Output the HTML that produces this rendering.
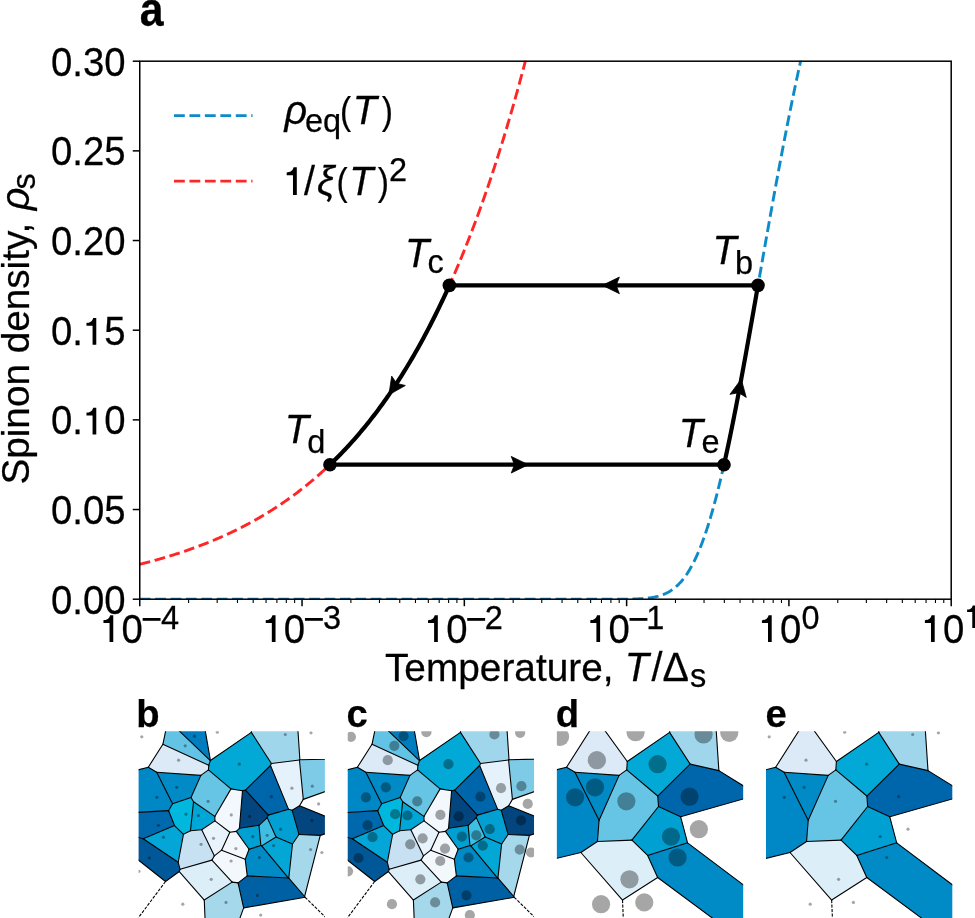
<!DOCTYPE html>
<html><head><meta charset="utf-8"><style>
html,body{margin:0;padding:0;background:#fff;}
svg{display:block;will-change:transform;}
text{font-family:"Liberation Sans",sans-serif;}
text{fill:#000;stroke:#000;stroke-width:0.25px;}
.bold{font-weight:bold;fill:#000;}
</style></head><body>
<svg width="975" height="918" viewBox="0 0 975 918">
<rect width="975" height="918" fill="#fff"/>
<clipPath id="ax"><rect x="139.75" y="60.7" width="811.45" height="539.0"/></clipPath>
<g clip-path="url(#ax)" fill="none" stroke-width="2.9">
<polyline points="139.75,599.2 140.6,599.2 141.46,599.2 142.31,599.2 143.16,599.2 144.02,599.2 144.87,599.2 145.72,599.2 146.57,599.2 147.43,599.2 148.28,599.2 149.13,599.2 149.99,599.2 150.84,599.2 151.69,599.2 152.55,599.2 153.4,599.2 154.25,599.2 155.11,599.2 155.96,599.2 156.81,599.2 157.66,599.2 158.52,599.2 159.37,599.2 160.22,599.2 161.08,599.2 161.93,599.2 162.78,599.2 163.64,599.2 164.49,599.2 165.34,599.2 166.2,599.2 167.05,599.2 167.9,599.2 168.76,599.2 169.61,599.2 170.46,599.2 171.31,599.2 172.17,599.2 173.02,599.2 173.87,599.2 174.73,599.2 175.58,599.2 176.43,599.2 177.29,599.2 178.14,599.2 178.99,599.2 179.85,599.2 180.7,599.2 181.55,599.2 182.4,599.2 183.26,599.2 184.11,599.2 184.96,599.2 185.82,599.2 186.67,599.2 187.52,599.2 188.38,599.2 189.23,599.2 190.08,599.2 190.94,599.2 191.79,599.2 192.64,599.2 193.49,599.2 194.35,599.2 195.2,599.2 196.05,599.2 196.91,599.2 197.76,599.2 198.61,599.2 199.47,599.2 200.32,599.2 201.17,599.2 202.03,599.2 202.88,599.2 203.73,599.2 204.58,599.2 205.44,599.2 206.29,599.2 207.14,599.2 208,599.2 208.85,599.2 209.7,599.2 210.56,599.2 211.41,599.2 212.26,599.2 213.12,599.2 213.97,599.2 214.82,599.2 215.67,599.2 216.53,599.2 217.38,599.2 218.23,599.2 219.09,599.2 219.94,599.2 220.79,599.2 221.65,599.2 222.5,599.2 223.35,599.2 224.21,599.2 225.06,599.2 225.91,599.2 226.77,599.2 227.62,599.2 228.47,599.2 229.32,599.2 230.18,599.2 231.03,599.2 231.88,599.2 232.74,599.2 233.59,599.2 234.44,599.2 235.3,599.2 236.15,599.2 237,599.2 237.86,599.2 238.71,599.2 239.56,599.2 240.41,599.2 241.27,599.2 242.12,599.2 242.97,599.2 243.83,599.2 244.68,599.2 245.53,599.2 246.39,599.2 247.24,599.2 248.09,599.2 248.95,599.2 249.8,599.2 250.65,599.2 251.5,599.2 252.36,599.2 253.21,599.2 254.06,599.2 254.92,599.2 255.77,599.2 256.62,599.2 257.48,599.2 258.33,599.2 259.18,599.2 260.04,599.2 260.89,599.2 261.74,599.2 262.59,599.2 263.45,599.2 264.3,599.2 265.15,599.2 266.01,599.2 266.86,599.2 267.71,599.2 268.57,599.2 269.42,599.2 270.27,599.2 271.13,599.2 271.98,599.2 272.83,599.2 273.68,599.2 274.54,599.2 275.39,599.2 276.24,599.2 277.1,599.2 277.95,599.2 278.8,599.2 279.66,599.2 280.51,599.2 281.36,599.2 282.22,599.2 283.07,599.2 283.92,599.2 284.78,599.2 285.63,599.2 286.48,599.2 287.33,599.2 288.19,599.2 289.04,599.2 289.89,599.2 290.75,599.2 291.6,599.2 292.45,599.2 293.31,599.2 294.16,599.2 295.01,599.2 295.87,599.2 296.72,599.2 297.57,599.2 298.42,599.2 299.28,599.2 300.13,599.2 300.98,599.2 301.84,599.2 302.69,599.2 303.54,599.2 304.4,599.2 305.25,599.2 306.1,599.2 306.96,599.2 307.81,599.2 308.66,599.2 309.51,599.2 310.37,599.2 311.22,599.2 312.07,599.2 312.93,599.2 313.78,599.2 314.63,599.2 315.49,599.2 316.34,599.2 317.19,599.2 318.05,599.2 318.9,599.2 319.75,599.2 320.6,599.2 321.46,599.2 322.31,599.2 323.16,599.2 324.02,599.2 324.87,599.2 325.72,599.2 326.58,599.2 327.43,599.2 328.28,599.2 329.14,599.2 329.99,599.2 330.84,599.2 331.69,599.2 332.55,599.2 333.4,599.2 334.25,599.2 335.11,599.2 335.96,599.2 336.81,599.2 337.67,599.2 338.52,599.2 339.37,599.2 340.23,599.2 341.08,599.2 341.93,599.2 342.79,599.2 343.64,599.2 344.49,599.2 345.34,599.2 346.2,599.2 347.05,599.2 347.9,599.2 348.76,599.2 349.61,599.2 350.46,599.2 351.32,599.2 352.17,599.2 353.02,599.2 353.88,599.2 354.73,599.2 355.58,599.2 356.43,599.2 357.29,599.2 358.14,599.2 358.99,599.2 359.85,599.2 360.7,599.2 361.55,599.2 362.41,599.2 363.26,599.2 364.11,599.2 364.97,599.2 365.82,599.2 366.67,599.2 367.52,599.2 368.38,599.2 369.23,599.2 370.08,599.2 370.94,599.2 371.79,599.2 372.64,599.2 373.5,599.2 374.35,599.2 375.2,599.2 376.06,599.2 376.91,599.2 377.76,599.2 378.61,599.2 379.47,599.2 380.32,599.2 381.17,599.2 382.03,599.2 382.88,599.2 383.73,599.2 384.59,599.2 385.44,599.2 386.29,599.2 387.15,599.2 388,599.2 388.85,599.2 389.71,599.2 390.56,599.2 391.41,599.2 392.26,599.2 393.12,599.2 393.97,599.2 394.82,599.2 395.68,599.2 396.53,599.2 397.38,599.2 398.24,599.2 399.09,599.2 399.94,599.2 400.8,599.2 401.65,599.2 402.5,599.2 403.35,599.2 404.21,599.2 405.06,599.2 405.91,599.2 406.77,599.2 407.62,599.2 408.47,599.2 409.33,599.2 410.18,599.2 411.03,599.2 411.89,599.2 412.74,599.2 413.59,599.2 414.44,599.2 415.3,599.2 416.15,599.2 417,599.2 417.86,599.2 418.71,599.2 419.56,599.2 420.42,599.2 421.27,599.2 422.12,599.2 422.98,599.2 423.83,599.2 424.68,599.2 425.53,599.2 426.39,599.2 427.24,599.2 428.09,599.2 428.95,599.2 429.8,599.2 430.65,599.2 431.51,599.2 432.36,599.2 433.21,599.2 434.07,599.2 434.92,599.2 435.77,599.2 436.62,599.2 437.48,599.2 438.33,599.2 439.18,599.2 440.04,599.2 440.89,599.2 441.74,599.2 442.6,599.2 443.45,599.2 444.3,599.2 445.16,599.2 446.01,599.2 446.86,599.2 447.72,599.2 448.57,599.2 449.42,599.2 450.27,599.2 451.13,599.2 451.98,599.2 452.83,599.2 453.69,599.2 454.54,599.2 455.39,599.2 456.25,599.2 457.1,599.2 457.95,599.2 458.81,599.2 459.66,599.2 460.51,599.2 461.36,599.2 462.22,599.2 463.07,599.2 463.92,599.2 464.78,599.2 465.63,599.2 466.48,599.2 467.34,599.2 468.19,599.2 469.04,599.2 469.9,599.2 470.75,599.2 471.6,599.2 472.45,599.2 473.31,599.2 474.16,599.2 475.01,599.2 475.87,599.2 476.72,599.2 477.57,599.2 478.43,599.2 479.28,599.2 480.13,599.2 480.99,599.2 481.84,599.2 482.69,599.2 483.54,599.2 484.4,599.2 485.25,599.2 486.1,599.2 486.96,599.2 487.81,599.2 488.66,599.2 489.52,599.2 490.37,599.2 491.22,599.2 492.08,599.2 492.93,599.2 493.78,599.2 494.63,599.2 495.49,599.2 496.34,599.2 497.19,599.2 498.05,599.2 498.9,599.2 499.75,599.2 500.61,599.2 501.46,599.2 502.31,599.2 503.17,599.2 504.02,599.2 504.87,599.2 505.73,599.2 506.58,599.2 507.43,599.2 508.28,599.2 509.14,599.2 509.99,599.2 510.84,599.2 511.7,599.2 512.55,599.2 513.4,599.2 514.26,599.2 515.11,599.2 515.96,599.2 516.82,599.2 517.67,599.2 518.52,599.2 519.37,599.2 520.23,599.2 521.08,599.2 521.93,599.2 522.79,599.2 523.64,599.2 524.49,599.2 525.35,599.2 526.2,599.2 527.05,599.2 527.91,599.2 528.76,599.2 529.61,599.2 530.46,599.2 531.32,599.2 532.17,599.2 533.02,599.2 533.88,599.2 534.73,599.2 535.58,599.2 536.44,599.2 537.29,599.2 538.14,599.2 539,599.2 539.85,599.2 540.7,599.2 541.55,599.2 542.41,599.2 543.26,599.2 544.11,599.2 544.97,599.2 545.82,599.2 546.67,599.2 547.53,599.2 548.38,599.2 549.23,599.2 550.09,599.2 550.94,599.2 551.79,599.2 552.65,599.2 553.5,599.2 554.35,599.2 555.2,599.2 556.06,599.2 556.91,599.2 557.76,599.2 558.62,599.2 559.47,599.2 560.32,599.2 561.18,599.2 562.03,599.2 562.88,599.2 563.74,599.2 564.59,599.2 565.44,599.2 566.29,599.2 567.15,599.2 568,599.2 568.85,599.2 569.71,599.2 570.56,599.2 571.41,599.2 572.27,599.2 573.12,599.2 573.97,599.2 574.83,599.2 575.68,599.2 576.53,599.2 577.38,599.2 578.24,599.2 579.09,599.2 579.94,599.2 580.8,599.2 581.65,599.2 582.5,599.2 583.36,599.2 584.21,599.2 585.06,599.2 585.92,599.2 586.77,599.2 587.62,599.2 588.47,599.2 589.33,599.2 590.18,599.2 591.03,599.2 591.89,599.2 592.74,599.2 593.59,599.2 594.45,599.2 595.3,599.2 596.15,599.2 597.01,599.2 597.86,599.2 598.71,599.2 599.56,599.2 600.42,599.2 601.27,599.2 602.12,599.2 602.98,599.2 603.83,599.2 604.68,599.2 605.54,599.2 606.39,599.2 607.24,599.2 608.1,599.2 608.95,599.2 609.8,599.19 610.66,599.19 611.51,599.19 612.36,599.19 613.21,599.19 614.07,599.19 614.92,599.19 615.77,599.18 616.63,599.18 617.48,599.18 618.33,599.18 619.19,599.17 620.04,599.17 620.89,599.17 621.75,599.16 622.6,599.15 623.45,599.15 624.3,599.14 625.16,599.13 626.01,599.13 626.86,599.12 627.72,599.1 628.57,599.09 629.42,599.08 630.28,599.07 631.13,599.05 631.98,599.03 632.84,599.01 633.69,598.99 634.54,598.96 635.39,598.94 636.25,598.91 637.1,598.88 637.95,598.84 638.81,598.8 639.66,598.76 640.51,598.71 641.37,598.66 642.22,598.61 643.07,598.55 643.93,598.48 644.78,598.41 645.63,598.33 646.48,598.25 647.34,598.16 648.19,598.06 649.04,597.96 649.9,597.85 650.75,597.72 651.6,597.59 652.46,597.45 653.31,597.3 654.16,597.13 655.02,596.96 655.87,596.77 656.72,596.57 657.57,596.36 658.43,596.13 659.28,595.88 660.13,595.62 660.99,595.35 661.84,595.05 662.69,594.74 663.55,594.41 664.4,594.05 665.25,593.68 666.11,593.28 666.96,592.86 667.81,592.42 668.67,591.95 669.52,591.46 670.37,590.94 671.22,590.39 672.08,589.81 672.93,589.2 673.78,588.56 674.64,587.89 675.49,587.18 676.34,586.44 677.2,585.67 678.05,584.86 678.9,584.01 679.76,583.12 680.61,582.19 681.46,581.23 682.31,580.22 683.17,579.16 684.02,578.06 684.87,576.92 685.73,575.73 686.58,574.5 687.43,573.21 688.29,571.88 689.14,570.5 689.99,569.07 690.85,567.58 691.7,566.04 692.55,564.45 693.4,562.81 694.26,561.1 695.11,559.35 695.96,557.53 696.82,555.66 697.67,553.74 698.52,551.75 699.38,549.7 700.23,547.6 701.08,545.44 701.94,543.21 702.79,540.92 703.64,538.58 704.49,536.17 705.35,533.7 706.2,531.17 707.05,528.58 707.91,525.93 708.76,523.21 709.61,520.43 710.47,517.59 711.32,514.69 712.17,511.73 713.03,508.71 713.88,505.63 714.73,502.49 715.58,499.29 716.44,496.02 717.29,492.7 718.14,489.32 719,485.89 719.85,482.4 720.7,478.85 721.56,475.24 722.41,471.58 723.26,467.87 724.12,464.11 724.97,460.29 725.82,456.42 726.68,452.5 727.53,448.54 728.38,444.52 729.23,440.46 730.09,436.36 730.94,432.21 731.79,428.01 732.65,423.78 733.5,419.5 734.35,415.19 735.21,410.83 736.06,406.44 736.91,402.02 737.77,397.56 738.62,393.07 739.47,388.54 740.32,383.99 741.18,379.41 742.03,374.8 742.88,370.17 743.74,365.51 744.59,360.83 745.44,356.13 746.3,351.41 747.15,346.67 748,341.91 748.86,337.14 749.71,332.35 750.56,327.55 751.41,322.73 752.27,317.91 753.12,313.08 753.97,308.24 754.83,303.39 755.68,298.54 756.53,293.69 757.39,288.83 758.24,283.97 759.09,279.11 759.95,274.25 760.8,269.39 761.65,264.54 762.5,259.69 763.36,254.85 764.21,250.02 765.06,245.19 765.92,240.37 766.77,235.56 767.62,230.76 768.48,225.98 769.33,221.2 770.18,216.44 771.04,211.7 771.89,206.97 772.74,202.25 773.6,197.56 774.45,192.88 775.3,188.22 776.15,183.57 777.01,178.95 777.86,174.35 778.71,169.77 779.57,165.22 780.42,160.68 781.27,156.17 782.13,151.68 782.98,147.22 783.83,142.78 784.69,138.37 785.54,133.98 786.39,129.62 787.24,125.28 788.1,120.98 788.95,116.7 789.8,112.44 790.66,108.22 791.51,104.02 792.36,99.86 793.22,95.72 794.07,91.61 794.92,87.53 795.78,83.48 796.63,79.46 797.48,75.47 798.33,71.51 799.19,67.59 800.04,63.69 800.89,59.82" stroke="#0c8bc8" stroke-dasharray="10.75 4.65"/>
<polyline points="139.75,564.3 140.43,564.13 141.1,563.96 141.78,563.8 142.46,563.62 143.14,563.45 143.81,563.28 144.49,563.11 145.17,562.93 145.85,562.76 146.52,562.58 147.2,562.41 147.88,562.23 148.56,562.05 149.23,561.87 149.91,561.69 150.59,561.51 151.26,561.33 151.94,561.15 152.62,560.97 153.3,560.78 153.97,560.6 154.65,560.41 155.33,560.22 156.01,560.04 156.68,559.85 157.36,559.66 158.04,559.47 158.72,559.28 159.39,559.08 160.07,558.89 160.75,558.7 161.42,558.5 162.1,558.31 162.78,558.11 163.46,557.91 164.13,557.71 164.81,557.51 165.49,557.31 166.17,557.11 166.84,556.91 167.52,556.7 168.2,556.5 168.88,556.29 169.55,556.09 170.23,555.88 170.91,555.67 171.58,555.46 172.26,555.25 172.94,555.04 173.62,554.82 174.29,554.61 174.97,554.4 175.65,554.18 176.33,553.96 177,553.75 177.68,553.53 178.36,553.31 179.04,553.09 179.71,552.86 180.39,552.64 181.07,552.42 181.74,552.19 182.42,551.96 183.1,551.74 183.78,551.51 184.45,551.28 185.13,551.05 185.81,550.82 186.49,550.58 187.16,550.35 187.84,550.11 188.52,549.88 189.2,549.64 189.87,549.4 190.55,549.16 191.23,548.92 191.9,548.68 192.58,548.43 193.26,548.19 193.94,547.94 194.61,547.7 195.29,547.45 195.97,547.2 196.65,546.95 197.32,546.7 198,546.44 198.68,546.19 199.36,545.93 200.03,545.68 200.71,545.42 201.39,545.16 202.07,544.9 202.74,544.64 203.42,544.38 204.1,544.11 204.77,543.85 205.45,543.58 206.13,543.31 206.81,543.04 207.48,542.77 208.16,542.5 208.84,542.23 209.52,541.95 210.19,541.68 210.87,541.4 211.55,541.12 212.23,540.84 212.9,540.56 213.58,540.28 214.26,540 214.93,539.71 215.61,539.42 216.29,539.14 216.97,538.85 217.64,538.56 218.32,538.26 219,537.97 219.68,537.68 220.35,537.38 221.03,537.08 221.71,536.78 222.39,536.48 223.06,536.18 223.74,535.88 224.42,535.57 225.09,535.26 225.77,534.96 226.45,534.65 227.13,534.34 227.8,534.02 228.48,533.71 229.16,533.39 229.84,533.08 230.51,532.76 231.19,532.44 231.87,532.12 232.55,531.79 233.22,531.47 233.9,531.14 234.58,530.82 235.25,530.49 235.93,530.16 236.61,529.82 237.29,529.49 237.96,529.15 238.64,528.82 239.32,528.48 240,528.14 240.67,527.79 241.35,527.45 242.03,527.1 242.71,526.76 243.38,526.41 244.06,526.06 244.74,525.7 245.41,525.35 246.09,524.99 246.77,524.64 247.45,524.28 248.12,523.92 248.8,523.55 249.48,523.19 250.16,522.82 250.83,522.46 251.51,522.09 252.19,521.72 252.87,521.34 253.54,520.97 254.22,520.59 254.9,520.21 255.57,519.83 256.25,519.45 256.93,519.07 257.61,518.68 258.28,518.29 258.96,517.9 259.64,517.51 260.32,517.12 260.99,516.72 261.67,516.32 262.35,515.92 263.03,515.52 263.7,515.12 264.38,514.72 265.06,514.31 265.73,513.9 266.41,513.49 267.09,513.08 267.77,512.66 268.44,512.24 269.12,511.83 269.8,511.4 270.48,510.98 271.15,510.56 271.83,510.13 272.51,509.7 273.19,509.27 273.86,508.84 274.54,508.4 275.22,507.96 275.89,507.52 276.57,507.08 277.25,506.64 277.93,506.19 278.6,505.75 279.28,505.3 279.96,504.84 280.64,504.39 281.31,503.93 281.99,503.47 282.67,503.01 283.35,502.55 284.02,502.08 284.7,501.62 285.38,501.15 286.05,500.67 286.73,500.2 287.41,499.72 288.09,499.24 288.76,498.76 289.44,498.28 290.12,497.79 290.8,497.3 291.47,496.81 292.15,496.32 292.83,495.82 293.51,495.33 294.18,494.82 294.86,494.32 295.54,493.82 296.21,493.31 296.89,492.8 297.57,492.29 298.25,491.77 298.92,491.25 299.6,490.73 300.28,490.21 300.96,489.69 301.63,489.16 302.31,488.63 302.99,488.1 303.67,487.56 304.34,487.02 305.02,486.48 305.7,485.94 306.37,485.4 307.05,484.85 307.73,484.3 308.41,483.74 309.08,483.19 309.76,482.63 310.44,482.07 311.12,481.5 311.79,480.94 312.47,480.37 313.15,479.79 313.83,479.22 314.5,478.64 315.18,478.06 315.86,477.48 316.54,476.89 317.21,476.3 317.89,475.71 318.57,475.11 319.24,474.52 319.92,473.92 320.6,473.31 321.28,472.71 321.95,472.1 322.63,471.48 323.31,470.87 323.99,470.25 324.66,469.63 325.34,469.01 326.02,468.38 326.7,467.75 327.37,467.12 328.05,466.48 328.73,465.84 329.4,465.2 330.08,464.55 330.76,463.9 331.44,463.25 332.11,462.6 332.79,461.94 333.47,461.28 334.15,460.61 334.82,459.95 335.5,459.28 336.18,458.6 336.86,457.92 337.53,457.24 338.21,456.56 338.89,455.87 339.56,455.18 340.24,454.49 340.92,453.79 341.6,453.09 342.27,452.39 342.95,451.68 343.63,450.97 344.31,450.26 344.98,449.54 345.66,448.82 346.34,448.09 347.02,447.37 347.69,446.63 348.37,445.9 349.05,445.16 349.72,444.42 350.4,443.67 351.08,442.93 351.76,442.17 352.43,441.42 353.11,440.66 353.79,439.89 354.47,439.13 355.14,438.35 355.82,437.58 356.5,436.8 357.18,436.02 357.85,435.23 358.53,434.44 359.21,433.65 359.88,432.85 360.56,432.05 361.24,431.25 361.92,430.44 362.59,429.62 363.27,428.81 363.95,427.99 364.63,427.16 365.3,426.33 365.98,425.5 366.66,424.66 367.34,423.82 368.01,422.98 368.69,422.13 369.37,421.28 370.04,420.42 370.72,419.56 371.4,418.69 372.08,417.82 372.75,416.95 373.43,416.07 374.11,415.19 374.79,414.3 375.46,413.41 376.14,412.52 376.82,411.62 377.5,410.72 378.17,409.81 378.85,408.9 379.53,407.98 380.2,407.06 380.88,406.13 381.56,405.2 382.24,404.27 382.91,403.33 383.59,402.39 384.27,401.44 384.95,400.49 385.62,399.53 386.3,398.57 386.98,397.6 387.66,396.63 388.33,395.65 389.01,394.67 389.69,393.69 390.36,392.7 391.04,391.7 391.72,390.7 392.4,389.7 393.07,388.69 393.75,387.68 394.43,386.66 395.11,385.63 395.78,384.61 396.46,383.57 397.14,382.53 397.82,381.49 398.49,380.44 399.17,379.39 399.85,378.33 400.52,377.26 401.2,376.2 401.88,375.12 402.56,374.04 403.23,372.96 403.91,371.87 404.59,370.77 405.27,369.67 405.94,368.57 406.62,367.46 407.3,366.34 407.98,365.22 408.65,364.09 409.33,362.96 410.01,361.82 410.68,360.68 411.36,359.53 412.04,358.37 412.72,357.21 413.39,356.05 414.07,354.88 414.75,353.7 415.43,352.52 416.1,351.33 416.78,350.14 417.46,348.94 418.14,347.73 418.81,346.52 419.49,345.3 420.17,344.08 420.84,342.85 421.52,341.62 422.2,340.38 422.88,339.13 423.55,337.88 424.23,336.62 424.91,335.35 425.59,334.08 426.26,332.81 426.94,331.52 427.62,330.23 428.3,328.94 428.97,327.64 429.65,326.33 430.33,325.01 431.01,323.69 431.68,322.37 432.36,321.03 433.04,319.69 433.71,318.35 434.39,316.99 435.07,315.63 435.75,314.27 436.42,312.9 437.1,311.52 437.78,310.13 438.46,308.74 439.13,307.34 439.81,305.93 440.49,304.52 441.17,303.1 441.84,301.68 442.52,300.24 443.2,298.8 443.87,297.36 444.55,295.9 445.23,294.44 445.91,292.97 446.58,291.5 447.26,290.02 447.94,288.53 448.62,287.03 449.29,285.53 449.97,284.02 450.65,282.5 451.33,280.97 452,279.44 452.68,277.9 453.36,276.35 454.03,274.8 454.71,273.23 455.39,271.66 456.07,270.09 456.74,268.5 457.42,266.91 458.1,265.31 458.78,263.7 459.45,262.08 460.13,260.46 460.81,258.83 461.49,257.19 462.16,255.54 462.84,253.89 463.52,252.22 464.19,250.55 464.87,248.87 465.55,247.19 466.23,245.49 466.9,243.79 467.58,242.07 468.26,240.35 468.94,238.63 469.61,236.89 470.29,235.14 470.97,233.39 471.65,231.63 472.32,229.86 473,228.08 473.68,226.29 474.35,224.5 475.03,222.69 475.71,220.88 476.39,219.06 477.06,217.22 477.74,215.38 478.42,213.54 479.1,211.68 479.77,209.81 480.45,207.94 481.13,206.05 481.81,204.16 482.48,202.25 483.16,200.34 483.84,198.42 484.51,196.49 485.19,194.55 485.87,192.6 486.55,190.64 487.22,188.68 487.9,186.7 488.58,184.71 489.26,182.72 489.93,180.71 490.61,178.69 491.29,176.67 491.97,174.63 492.64,172.59 493.32,170.53 494,168.47 494.67,166.39 495.35,164.31 496.03,162.21 496.71,160.11 497.38,158 498.06,155.87 498.74,153.73 499.42,151.59 500.09,149.43 500.77,147.27 501.45,145.09 502.13,142.9 502.8,140.7 503.48,138.5 504.16,136.28 504.83,134.05 505.51,131.81 506.19,129.56 506.87,127.29 507.54,125.02 508.22,122.74 508.9,120.44 509.58,118.14 510.25,115.82 510.93,113.49 511.61,111.15 512.29,108.8 512.96,106.44 513.64,104.06 514.32,101.68 514.99,99.28 515.67,96.88 516.35,94.46 517.03,92.03 517.7,89.58 518.38,87.13 519.06,84.66 519.74,82.18 520.41,79.69 521.09,77.19 521.77,74.68 522.45,72.15 523.12,69.61 523.8,67.06 524.48,64.5 525.15,61.92 525.83,59.33 526.51,56.73 527.19,54.12 527.86,51.49 528.54,48.86 529.22,46.21 529.9,43.54 530.57,40.87" stroke="#ff2626" stroke-dasharray="10.75 4.65"/>
</g>
<polyline points="757.99,285.37 449.37,285.37 449.37,285.37 447.85,288.71 446.34,292.03 444.83,295.3 443.32,298.55 441.81,301.75 440.29,304.93 438.78,308.07 437.27,311.17 435.76,314.24 434.25,317.28 432.73,320.29 431.22,323.27 429.71,326.21 428.2,329.12 426.69,332 425.18,334.85 423.66,337.67 422.15,340.46 420.64,343.22 419.13,345.96 417.62,348.66 416.1,351.33 414.59,353.97 413.08,356.59 411.57,359.18 410.06,361.74 408.54,364.27 407.03,366.78 405.52,369.26 404.01,371.71 402.5,374.14 400.99,376.54 399.47,378.91 397.96,381.26 396.45,383.59 394.94,385.89 393.43,388.16 391.91,390.42 390.4,392.64 388.89,394.85 387.38,397.03 385.87,399.18 384.35,401.32 382.84,403.43 381.33,405.52 379.82,407.58 378.31,409.63 376.8,411.65 375.28,413.65 373.77,415.63 372.26,417.59 370.75,419.53 369.24,421.44 367.72,423.34 366.21,425.21 364.7,427.07 363.19,428.91 361.68,430.72 360.16,432.52 358.65,434.3 357.14,436.06 355.63,437.8 354.12,439.52 352.61,441.22 351.09,442.91 349.58,444.58 348.07,446.23 346.56,447.86 345.05,449.47 343.53,451.07 342.02,452.65 340.51,454.21 339,455.76 337.49,457.29 335.97,458.8 334.46,460.3 332.95,461.78 331.44,463.25 329.93,464.7 723.98,464.7 723.98,464.7 724.41,462.78 724.84,460.86 725.27,458.91 725.7,456.96 726.13,454.99 726.57,453.01 727,451.02 727.43,449.01 727.86,447 728.29,444.97 728.72,442.93 729.15,440.87 729.58,438.81 730.01,436.73 730.44,434.65 730.87,432.55 731.3,430.44 731.73,428.32 732.16,426.19 732.59,424.05 733.02,421.89 733.45,419.73 733.88,417.56 734.31,415.38 734.75,413.19 735.18,410.99 735.61,408.78 736.04,406.56 736.47,404.33 736.9,402.09 737.33,399.85 737.76,397.59 738.19,395.33 738.62,393.06 739.05,390.78 739.48,388.49 739.91,386.2 740.34,383.9 740.77,381.59 741.2,379.27 741.63,376.95 742.06,374.62 742.49,372.29 742.93,369.94 743.36,367.59 743.79,365.24 744.22,362.88 744.65,360.51 745.08,358.14 745.51,355.77 745.94,353.39 746.37,351 746.8,348.61 747.23,346.21 747.66,343.81 748.09,341.41 748.52,339 748.95,336.59 749.38,334.17 749.81,331.75 750.24,329.33 750.67,326.91 751.11,324.48 751.54,322.05 751.97,319.61 752.4,317.18 752.83,314.74 753.26,312.3 753.69,309.86 754.12,307.41 754.55,304.97 754.98,302.52 755.41,300.07 755.84,297.62 756.27,295.17 756.7,292.72 757.13,290.27 757.56,287.82 757.99,285.37" fill="none" stroke="#000" stroke-width="4.2" stroke-linejoin="round"/>
<path d="M602.38,285.37 L619.38,293.67 L616.18,285.37 L619.38,277.07 Z" fill="#000" stroke="#000" stroke-width="0.8" stroke-linejoin="round"/>
<path d="M528.25,464.70 L511.25,456.40 L514.45,464.70 L511.25,473.00 Z" fill="#000" stroke="#000" stroke-width="0.8" stroke-linejoin="round"/>
<path d="M388.91,394.82 L405.37,385.50 L396.72,383.44 L391.68,376.11 Z" fill="#000" stroke="#000" stroke-width="0.8" stroke-linejoin="round"/>
<path d="M741.23,379.15 L729.96,394.35 L738.70,392.72 L746.28,397.38 Z" fill="#000" stroke="#000" stroke-width="0.8" stroke-linejoin="round"/>
<circle cx="757.99" cy="285.37" r="6.8" fill="#000"/>
<circle cx="449.37" cy="285.37" r="6.8" fill="#000"/>
<circle cx="329.93" cy="464.70" r="6.8" fill="#000"/>
<circle cx="723.98" cy="464.70" r="6.8" fill="#000"/>
<rect x="139.75" y="61.2" width="811.45" height="538.0" fill="none" stroke="#000" stroke-width="1.5"/>
<line x1="132.75" y1="599.20" x2="139.75" y2="599.20" stroke="#000" stroke-width="1.5"/>
<line x1="132.75" y1="509.53" x2="139.75" y2="509.53" stroke="#000" stroke-width="1.5"/>
<line x1="132.75" y1="419.87" x2="139.75" y2="419.87" stroke="#000" stroke-width="1.5"/>
<line x1="132.75" y1="330.20" x2="139.75" y2="330.20" stroke="#000" stroke-width="1.5"/>
<line x1="132.75" y1="240.53" x2="139.75" y2="240.53" stroke="#000" stroke-width="1.5"/>
<line x1="132.75" y1="150.87" x2="139.75" y2="150.87" stroke="#000" stroke-width="1.5"/>
<line x1="132.75" y1="61.20" x2="139.75" y2="61.20" stroke="#000" stroke-width="1.5"/>
<line x1="139.75" y1="599.20" x2="139.75" y2="606.20" stroke="#000" stroke-width="1.5"/>
<line x1="188.60" y1="599.20" x2="188.60" y2="603.00" stroke="#000" stroke-width="1.1"/>
<line x1="217.18" y1="599.20" x2="217.18" y2="603.00" stroke="#000" stroke-width="1.1"/>
<line x1="237.46" y1="599.20" x2="237.46" y2="603.00" stroke="#000" stroke-width="1.1"/>
<line x1="253.19" y1="599.20" x2="253.19" y2="603.00" stroke="#000" stroke-width="1.1"/>
<line x1="266.04" y1="599.20" x2="266.04" y2="603.00" stroke="#000" stroke-width="1.1"/>
<line x1="276.90" y1="599.20" x2="276.90" y2="603.00" stroke="#000" stroke-width="1.1"/>
<line x1="286.31" y1="599.20" x2="286.31" y2="603.00" stroke="#000" stroke-width="1.1"/>
<line x1="294.61" y1="599.20" x2="294.61" y2="603.00" stroke="#000" stroke-width="1.1"/>
<line x1="302.04" y1="599.20" x2="302.04" y2="606.20" stroke="#000" stroke-width="1.5"/>
<line x1="350.89" y1="599.20" x2="350.89" y2="603.00" stroke="#000" stroke-width="1.1"/>
<line x1="379.47" y1="599.20" x2="379.47" y2="603.00" stroke="#000" stroke-width="1.1"/>
<line x1="399.75" y1="599.20" x2="399.75" y2="603.00" stroke="#000" stroke-width="1.1"/>
<line x1="415.48" y1="599.20" x2="415.48" y2="603.00" stroke="#000" stroke-width="1.1"/>
<line x1="428.33" y1="599.20" x2="428.33" y2="603.00" stroke="#000" stroke-width="1.1"/>
<line x1="439.19" y1="599.20" x2="439.19" y2="603.00" stroke="#000" stroke-width="1.1"/>
<line x1="448.60" y1="599.20" x2="448.60" y2="603.00" stroke="#000" stroke-width="1.1"/>
<line x1="456.90" y1="599.20" x2="456.90" y2="603.00" stroke="#000" stroke-width="1.1"/>
<line x1="464.33" y1="599.20" x2="464.33" y2="606.20" stroke="#000" stroke-width="1.5"/>
<line x1="513.18" y1="599.20" x2="513.18" y2="603.00" stroke="#000" stroke-width="1.1"/>
<line x1="541.76" y1="599.20" x2="541.76" y2="603.00" stroke="#000" stroke-width="1.1"/>
<line x1="562.04" y1="599.20" x2="562.04" y2="603.00" stroke="#000" stroke-width="1.1"/>
<line x1="577.77" y1="599.20" x2="577.77" y2="603.00" stroke="#000" stroke-width="1.1"/>
<line x1="590.62" y1="599.20" x2="590.62" y2="603.00" stroke="#000" stroke-width="1.1"/>
<line x1="601.48" y1="599.20" x2="601.48" y2="603.00" stroke="#000" stroke-width="1.1"/>
<line x1="610.89" y1="599.20" x2="610.89" y2="603.00" stroke="#000" stroke-width="1.1"/>
<line x1="619.19" y1="599.20" x2="619.19" y2="603.00" stroke="#000" stroke-width="1.1"/>
<line x1="626.62" y1="599.20" x2="626.62" y2="606.20" stroke="#000" stroke-width="1.5"/>
<line x1="675.47" y1="599.20" x2="675.47" y2="603.00" stroke="#000" stroke-width="1.1"/>
<line x1="704.05" y1="599.20" x2="704.05" y2="603.00" stroke="#000" stroke-width="1.1"/>
<line x1="724.33" y1="599.20" x2="724.33" y2="603.00" stroke="#000" stroke-width="1.1"/>
<line x1="740.06" y1="599.20" x2="740.06" y2="603.00" stroke="#000" stroke-width="1.1"/>
<line x1="752.91" y1="599.20" x2="752.91" y2="603.00" stroke="#000" stroke-width="1.1"/>
<line x1="763.77" y1="599.20" x2="763.77" y2="603.00" stroke="#000" stroke-width="1.1"/>
<line x1="773.18" y1="599.20" x2="773.18" y2="603.00" stroke="#000" stroke-width="1.1"/>
<line x1="781.48" y1="599.20" x2="781.48" y2="603.00" stroke="#000" stroke-width="1.1"/>
<line x1="788.91" y1="599.20" x2="788.91" y2="606.20" stroke="#000" stroke-width="1.5"/>
<line x1="837.76" y1="599.20" x2="837.76" y2="603.00" stroke="#000" stroke-width="1.1"/>
<line x1="866.34" y1="599.20" x2="866.34" y2="603.00" stroke="#000" stroke-width="1.1"/>
<line x1="886.62" y1="599.20" x2="886.62" y2="603.00" stroke="#000" stroke-width="1.1"/>
<line x1="902.35" y1="599.20" x2="902.35" y2="603.00" stroke="#000" stroke-width="1.1"/>
<line x1="915.20" y1="599.20" x2="915.20" y2="603.00" stroke="#000" stroke-width="1.1"/>
<line x1="926.06" y1="599.20" x2="926.06" y2="603.00" stroke="#000" stroke-width="1.1"/>
<line x1="935.47" y1="599.20" x2="935.47" y2="603.00" stroke="#000" stroke-width="1.1"/>
<line x1="943.77" y1="599.20" x2="943.77" y2="603.00" stroke="#000" stroke-width="1.1"/>
<line x1="951.20" y1="599.20" x2="951.20" y2="606.20" stroke="#000" stroke-width="1.5"/>
<text transform="translate(139.65,26.00) scale(0.930,1.030)" font-size="46.00" font-weight="bold">a</text>
<text transform="translate(136.18,726.50) scale(1.000,1.000)" font-size="38.20" font-weight="bold">b</text>
<text transform="translate(346.61,726.50) scale(1.000,1.000)" font-size="38.20" font-weight="bold">c</text>
<text transform="translate(555.63,726.50) scale(1.000,1.000)" font-size="38.20" font-weight="bold">d</text>
<text transform="translate(765.61,726.50) scale(1.000,1.000)" font-size="38.20" font-weight="bold">e</text>
<text transform="translate(51.05,613.80) scale(1,1.055)" font-size="38.30">0.00</text>
<text transform="translate(51.05,524.13) scale(1,1.055)" font-size="38.30">0.05</text>
<text transform="translate(51.05,434.47) scale(1,1.055)" font-size="38.30">0.</text>
<path d="M96.28,407.77 L96.28,434.47 L92.57,434.47 L92.57,415.47 L86.48,415.47 L86.48,412.67 C89.73,412.67 92.22,411.49 93.18,407.77 Z" fill="#000"/>
<text transform="translate(104.29,434.47) scale(1,1.055)" font-size="38.30">0</text>
<text transform="translate(51.05,344.80) scale(1,1.055)" font-size="38.30">0.</text>
<path d="M96.28,318.10 L96.28,344.80 L92.57,344.80 L92.57,325.80 L86.48,325.80 L86.48,323.01 C89.73,323.01 92.22,321.82 93.18,318.10 Z" fill="#000"/>
<text transform="translate(104.29,344.80) scale(1,1.055)" font-size="38.30">5</text>
<text transform="translate(51.05,255.13) scale(1,1.055)" font-size="38.30">0.20</text>
<text transform="translate(51.05,165.47) scale(1,1.055)" font-size="38.30">0.25</text>
<text transform="translate(51.05,75.80) scale(1,1.055)" font-size="38.30">0.30</text>
<path d="M113.25,615.30 L113.25,642.00 L109.54,642.00 L109.54,623.00 L103.45,623.00 L103.45,620.21 C106.71,620.21 109.20,619.02 110.15,615.30 Z" fill="#000"/>
<text transform="translate(121.56,642.7) scale(1,1.04)" font-size="38.30">0</text>
<rect x="142.65" y="618.0" width="17.9" height="2.8" fill="#000"/>
<text transform="translate(161.10,628.5) scale(1,1.04)" font-size="32.50">4</text>
<path d="M275.54,615.30 L275.54,642.00 L271.83,642.00 L271.83,623.00 L265.74,623.00 L265.74,620.21 C269.00,620.21 271.49,619.02 272.44,615.30 Z" fill="#000"/>
<text transform="translate(283.85,642.7) scale(1,1.04)" font-size="38.30">0</text>
<rect x="304.94" y="618.0" width="17.9" height="2.8" fill="#000"/>
<text transform="translate(322.90,628.5) scale(1,1.04)" font-size="32.50">3</text>
<path d="M437.83,615.30 L437.83,642.00 L434.12,642.00 L434.12,623.00 L428.03,623.00 L428.03,620.21 C431.29,620.21 433.78,619.02 434.73,615.30 Z" fill="#000"/>
<text transform="translate(446.14,642.7) scale(1,1.04)" font-size="38.30">0</text>
<rect x="467.23" y="618.0" width="17.9" height="2.8" fill="#000"/>
<text transform="translate(484.80,628.5) scale(1,1.04)" font-size="32.50">2</text>
<path d="M600.12,615.30 L600.12,642.00 L596.41,642.00 L596.41,623.00 L590.32,623.00 L590.32,620.21 C593.58,620.21 596.07,619.02 597.02,615.30 Z" fill="#000"/>
<text transform="translate(608.43,642.7) scale(1,1.04)" font-size="38.30">0</text>
<rect x="629.52" y="618.0" width="17.9" height="2.8" fill="#000"/>
<text transform="translate(646.24,628.5) scale(1,1.04)" font-size="32.50">1</text>
<path d="M771.71,615.30 L771.71,642.00 L768.00,642.00 L768.00,623.00 L761.91,623.00 L761.91,620.21 C765.17,620.21 767.66,619.02 768.61,615.30 Z" fill="#000"/>
<text transform="translate(780.02,642.7) scale(1,1.04)" font-size="38.30">0</text>
<text transform="translate(801.54,628.6) scale(1,1.04)" font-size="32.50">0</text>
<path d="M934.70,615.30 L934.70,642.00 L930.99,642.00 L930.99,623.00 L924.90,623.00 L924.90,620.21 C928.16,620.21 930.65,619.02 931.60,615.30 Z" fill="#000"/>
<text transform="translate(943.01,642.7) scale(1,1.04)" font-size="38.30">0</text>
<path d="M975.42,605.45 L975.42,628.10 L972.27,628.10 L972.27,611.98 L967.10,611.98 L967.10,609.61 C969.86,609.61 971.98,608.60 972.79,605.45 Z" fill="#000"/>
<text transform="translate(384.93,680.90) scale(0.983,1.000)" font-size="39.50">Temperature,</text>
<text transform="translate(624.65,680.90) scale(1.000,1.040)" font-size="39.50" font-style="italic">T</text>
<text transform="translate(651.50,680.90) scale(1.000,1.040)" font-size="39.50">/</text>
<text transform="translate(662.62,680.90) scale(1.000,1.040)" font-size="39.50">Δ</text>
<text transform="translate(690.00,687.20) scale(1.000,1.000)" font-size="32.50">s</text>
<text transform="translate(29.40,484.56) rotate(-90) scale(0.980,1.000)" font-size="39.50">Spinon density,</text>
<text transform="translate(29.40,210.24) rotate(-90) scale(1.000,1.040)" font-size="39.50" font-style="italic">ρ</text>
<text transform="translate(35.10,189.40) rotate(-90) scale(1.000,1.000)" font-size="32.50">s</text>
<line x1="174" y1="115.7" x2="252.5" y2="115.7" stroke="#0c8bc8" stroke-width="2.8" stroke-dasharray="10.8 4.65"/>
<line x1="174" y1="181.1" x2="252.5" y2="181.1" stroke="#ff2626" stroke-width="2.8" stroke-dasharray="10.8 4.65"/>
<text transform="translate(284.46,123.80) scale(1.000,1.040)" font-size="39.50" font-style="italic">ρ</text>
<text transform="translate(304.92,131.60) scale(1.000,1.000)" font-size="32.50">eq</text>
<text transform="translate(340.02,123.80) scale(0.850,0.980)" font-size="39.50">(</text>
<text transform="translate(352.65,123.80) scale(1.000,1.040)" font-size="39.50" font-style="italic">T</text>
<text transform="translate(381.80,123.80) scale(0.850,0.980)" font-size="39.50">)</text>
<path d="M296.81,167.37 L296.81,194.90 L292.98,194.90 L292.98,175.31 L286.70,175.31 L286.70,172.42 C290.06,172.42 292.62,171.20 293.61,167.37 Z" fill="#000"/>
<text transform="translate(304.00,194.90) scale(1.000,1.040)" font-size="39.50">/</text>
<text transform="translate(316.94,194.90) scale(1.000,1.040)" font-size="39.50" font-style="italic">ξ</text>
<text transform="translate(336.62,194.90) scale(0.850,0.980)" font-size="39.50">(</text>
<text transform="translate(349.15,194.90) scale(1.000,1.040)" font-size="39.50" font-style="italic">T</text>
<text transform="translate(377.80,194.90) scale(0.850,0.980)" font-size="39.50">)</text>
<text transform="translate(389.07,180.70) scale(1.000,1.000)" font-size="32.50">2</text>
<text transform="translate(712.45,263.50) scale(1.000,1.040)" font-size="39.50" font-style="italic">T</text>
<text transform="translate(735.11,273.70) scale(1.000,1.000)" font-size="32.50">b</text>
<text transform="translate(405.05,266.90) scale(1.000,1.040)" font-size="39.50" font-style="italic">T</text>
<text transform="translate(427.52,273.40) scale(1.000,1.000)" font-size="32.50">c</text>
<text transform="translate(284.75,442.60) scale(1.000,1.040)" font-size="39.50" font-style="italic">T</text>
<text transform="translate(307.24,453.10) scale(1.000,1.000)" font-size="32.50">d</text>
<text transform="translate(678.75,446.60) scale(1.000,1.040)" font-size="39.50" font-style="italic">T</text>
<text transform="translate(701.52,452.50) scale(1.000,1.000)" font-size="32.50">e</text>
<clipPath id="cp0"><rect x="138.60" y="731.20" width="186.30" height="198.80"/></clipPath>
<g clip-path="url(#cp0)"><g transform="translate(0.00,0)">
<polygon points="167.91,720.02 165.43,502.82 210.44,760.48 210.32,760.67" fill="#007dbe"/>
<polygon points="162.88,744.28 208.75,765.30 210.32,760.67 167.91,720.02" fill="#62c3e5"/>
<polygon points="162.88,744.28 148.24,767.31 156.69,772.28 200.84,775.38 208.44,769.92 208.75,765.30" fill="#dbeaf6"/>
<polygon points="156.69,772.28 172.53,803.80 191.01,797.41 200.84,775.38" fill="#008ac6"/>
<polygon points="156.69,772.28 172.53,803.80 168.55,810.67 72.80,816.15 11.29,801.27 148.24,767.31" fill="#0088c6"/>
<polygon points="200.84,775.38 191.01,797.41 193.54,801.73 214.82,816.42 230.97,788.87 208.44,769.92" fill="#66c5e5"/>
<polygon points="174.52,825.53 183.46,834.31 190.46,830.80 193.54,801.73 191.01,797.41 172.53,803.80 168.55,810.67" fill="#00b8de"/>
<polygon points="201.69,829.71 190.46,830.80 193.54,801.73 214.82,816.42 214.90,820.90" fill="#00a6d6"/>
<polygon points="229.84,832.26 236.29,831.38 239.41,828.30 242.50,790.69 230.97,788.87 214.82,816.42 214.90,820.90" fill="#f2f8fd"/>
<polygon points="94.21,825.22 143.17,838.70 174.52,825.53 168.55,810.67 72.80,816.15" fill="#0068ac"/>
<polygon points="271.41,763.46 299.44,760.02 299.88,759.79 267.14,264.91 251.33,732.36" fill="#a0d6ec"/>
<polygon points="208.75,765.30 208.44,769.92 230.97,788.87 242.50,790.69 245.51,790.09 270.48,765.50 271.41,763.46 251.33,732.36 210.44,760.48 210.32,760.67" fill="#02a9d6"/>
<polygon points="299.44,760.02 303.29,799.38 422.94,756.79 299.88,759.79" fill="#7ecbe8"/>
<polygon points="292.18,810.34 288.57,809.34 270.48,765.50 271.41,763.46 299.44,760.02 303.29,799.38 299.54,805.77" fill="#e6f2fb"/>
<polygon points="245.51,790.09 268.26,815.15 288.57,809.34 270.48,765.50" fill="#0066ac"/>
<polygon points="258.99,825.30 239.41,828.30 242.50,790.69 245.51,790.09 268.26,815.15 267.24,817.62" fill="#02457f"/>
<polygon points="320.27,835.40 298.96,834.45 292.18,810.34 299.54,805.77 349.83,826.19" fill="#02457f"/>
<polygon points="276.04,836.95 292.49,843.97 298.96,834.45 292.18,810.34 288.57,809.34 268.26,815.15 267.24,817.62" fill="#02a0d2"/>
<polygon points="143.17,838.70 178.20,862.27 183.46,834.31 174.52,825.53" fill="#03a6d6"/>
<polygon points="94.21,825.22 165.52,881.52 179.30,871.56 180.07,869.33 178.20,862.27 143.17,838.70" fill="#005898"/>
<polygon points="214.33,855.83 211.94,860.13 180.07,869.33 178.20,862.27 183.46,834.31 190.46,830.80 201.69,829.71" fill="#c8e1f2"/>
<polygon points="221.60,850.19 229.84,832.26 214.90,820.90 201.69,829.71 214.33,855.83" fill="#e9f3fb"/>
<polygon points="221.60,850.19 245.21,859.33 247.26,875.87 238.07,882.87 232.18,882.15 211.94,860.13 214.33,855.83" fill="#f3f8fd"/>
<polygon points="180.07,869.33 211.94,860.13 232.18,882.15 204.26,900.03 179.30,871.56" fill="#dceef8"/>
<polygon points="238.07,882.87 243.66,907.90 208.58,1003.74 204.26,900.03 232.18,882.15" fill="#a6d8ec"/>
<polygon points="260.81,845.53 249.05,849.25 236.29,831.38 239.41,828.30 258.99,825.30" fill="#00a0d2"/>
<polygon points="261.71,845.85 276.04,836.95 267.24,817.62 258.99,825.30 260.81,845.53" fill="#40bde2"/>
<polygon points="261.71,845.85 288.50,878.04 288.80,878.14 292.49,843.97 276.04,836.95" fill="#03a7d6"/>
<polygon points="221.60,850.19 245.21,859.33 249.05,849.25 236.29,831.38 229.84,832.26" fill="#f3f8fd"/>
<polygon points="261.71,845.85 288.50,878.04 247.26,875.87 245.21,859.33 249.05,849.25 260.81,845.53" fill="#008ac6"/>
<polygon points="288.80,878.14 304.58,896.51 320.27,835.40 298.96,834.45 292.49,843.97" fill="#a6d8ec"/>
<polygon points="288.80,878.14 304.58,896.51 305.10,897.29 243.66,907.90 238.07,882.87 247.26,875.87 288.50,878.04" fill="#0060a4"/>
<g stroke="#000" stroke-width="1.1" stroke-linecap="round">
<line x1="422.94" y1="756.79" x2="303.29" y2="799.38"/>
<line x1="422.94" y1="756.79" x2="299.88" y2="759.79"/>
<line x1="303.29" y1="799.38" x2="299.44" y2="760.02"/>
<line x1="299.88" y1="759.79" x2="299.44" y2="760.02"/>
<line x1="267.14" y1="264.91" x2="299.88" y2="759.79"/>
<line x1="305.10" y1="897.29" x2="243.66" y2="907.90"/>
<line x1="208.58" y1="1003.74" x2="243.66" y2="907.90"/>
<line x1="165.43" y1="502.82" x2="210.44" y2="760.48"/>
<line x1="267.14" y1="264.91" x2="251.33" y2="732.36"/>
<line x1="210.44" y1="760.48" x2="251.33" y2="732.36"/>
<line x1="299.44" y1="760.02" x2="271.41" y2="763.46"/>
<line x1="251.33" y1="732.36" x2="271.41" y2="763.46"/>
<line x1="288.57" y1="809.34" x2="268.26" y2="815.15"/>
<line x1="288.57" y1="809.34" x2="270.48" y2="765.50"/>
<line x1="268.26" y1="815.15" x2="245.51" y2="790.09"/>
<line x1="270.48" y1="765.50" x2="245.51" y2="790.09"/>
<line x1="299.54" y1="805.77" x2="349.83" y2="826.19"/>
<line x1="299.54" y1="805.77" x2="292.18" y2="810.34"/>
<line x1="292.18" y1="810.34" x2="298.96" y2="834.45"/>
<line x1="298.96" y1="834.45" x2="320.27" y2="835.40"/>
<line x1="349.83" y1="826.19" x2="320.27" y2="835.40"/>
<line x1="303.29" y1="799.38" x2="299.54" y2="805.77"/>
<line x1="288.57" y1="809.34" x2="292.18" y2="810.34"/>
<line x1="271.41" y1="763.46" x2="270.48" y2="765.50"/>
<line x1="305.10" y1="897.29" x2="304.58" y2="896.51"/>
<line x1="304.58" y1="896.51" x2="320.27" y2="835.40"/>
<line x1="208.58" y1="1003.74" x2="204.26" y2="900.03"/>
<line x1="204.26" y1="900.03" x2="232.18" y2="882.15"/>
<line x1="243.66" y1="907.90" x2="238.07" y2="882.87"/>
<line x1="232.18" y1="882.15" x2="238.07" y2="882.87"/>
<line x1="304.58" y1="896.51" x2="288.80" y2="878.14"/>
<line x1="298.96" y1="834.45" x2="292.49" y2="843.97"/>
<line x1="292.49" y1="843.97" x2="288.80" y2="878.14"/>
<line x1="247.26" y1="875.87" x2="238.07" y2="882.87"/>
<line x1="247.26" y1="875.87" x2="288.50" y2="878.04"/>
<line x1="288.50" y1="878.04" x2="288.80" y2="878.14"/>
<line x1="204.26" y1="900.03" x2="179.30" y2="871.56"/>
<line x1="179.30" y1="871.56" x2="165.52" y2="881.52"/>
<line x1="232.18" y1="882.15" x2="211.94" y2="860.13"/>
<line x1="211.94" y1="860.13" x2="180.07" y2="869.33"/>
<line x1="179.30" y1="871.56" x2="180.07" y2="869.33"/>
<line x1="168.55" y1="810.67" x2="174.52" y2="825.53"/>
<line x1="168.55" y1="810.67" x2="72.80" y2="816.15"/>
<line x1="174.52" y1="825.53" x2="143.17" y2="838.70"/>
<line x1="143.17" y1="838.70" x2="94.21" y2="825.22"/>
<line x1="72.80" y1="816.15" x2="94.21" y2="825.22"/>
<line x1="183.46" y1="834.31" x2="174.52" y2="825.53"/>
<line x1="183.46" y1="834.31" x2="190.46" y2="830.80"/>
<line x1="190.46" y1="830.80" x2="193.54" y2="801.73"/>
<line x1="193.54" y1="801.73" x2="191.01" y2="797.41"/>
<line x1="172.53" y1="803.80" x2="191.01" y2="797.41"/>
<line x1="172.53" y1="803.80" x2="168.55" y2="810.67"/>
<line x1="183.46" y1="834.31" x2="178.20" y2="862.27"/>
<line x1="178.20" y1="862.27" x2="143.17" y2="838.70"/>
<line x1="178.20" y1="862.27" x2="180.07" y2="869.33"/>
<line x1="165.52" y1="881.52" x2="94.21" y2="825.22"/>
<line x1="11.29" y1="801.27" x2="72.80" y2="816.15"/>
<line x1="230.97" y1="788.87" x2="208.44" y2="769.92"/>
<line x1="230.97" y1="788.87" x2="214.82" y2="816.42"/>
<line x1="193.54" y1="801.73" x2="214.82" y2="816.42"/>
<line x1="191.01" y1="797.41" x2="200.84" y2="775.38"/>
<line x1="208.44" y1="769.92" x2="200.84" y2="775.38"/>
<line x1="172.53" y1="803.80" x2="156.69" y2="772.28"/>
<line x1="200.84" y1="775.38" x2="156.69" y2="772.28"/>
<line x1="11.29" y1="801.27" x2="148.24" y2="767.31"/>
<line x1="148.24" y1="767.31" x2="156.69" y2="772.28"/>
<line x1="214.90" y1="820.90" x2="201.69" y2="829.71"/>
<line x1="214.90" y1="820.90" x2="229.84" y2="832.26"/>
<line x1="201.69" y1="829.71" x2="214.33" y2="855.83"/>
<line x1="229.84" y1="832.26" x2="221.60" y2="850.19"/>
<line x1="214.33" y1="855.83" x2="221.60" y2="850.19"/>
<line x1="190.46" y1="830.80" x2="201.69" y2="829.71"/>
<line x1="214.82" y1="816.42" x2="214.90" y2="820.90"/>
<line x1="230.97" y1="788.87" x2="242.50" y2="790.69"/>
<line x1="242.50" y1="790.69" x2="239.41" y2="828.30"/>
<line x1="239.41" y1="828.30" x2="236.29" y2="831.38"/>
<line x1="236.29" y1="831.38" x2="229.84" y2="832.26"/>
<line x1="211.94" y1="860.13" x2="214.33" y2="855.83"/>
<line x1="249.05" y1="849.25" x2="236.29" y2="831.38"/>
<line x1="249.05" y1="849.25" x2="245.21" y2="859.33"/>
<line x1="245.21" y1="859.33" x2="221.60" y2="850.19"/>
<line x1="247.26" y1="875.87" x2="245.21" y2="859.33"/>
<line x1="267.24" y1="817.62" x2="276.04" y2="836.95"/>
<line x1="267.24" y1="817.62" x2="258.99" y2="825.30"/>
<line x1="258.99" y1="825.30" x2="260.81" y2="845.53"/>
<line x1="276.04" y1="836.95" x2="261.71" y2="845.85"/>
<line x1="260.81" y1="845.53" x2="261.71" y2="845.85"/>
<line x1="268.26" y1="815.15" x2="267.24" y2="817.62"/>
<line x1="292.49" y1="843.97" x2="276.04" y2="836.95"/>
<line x1="242.50" y1="790.69" x2="245.51" y2="790.09"/>
<line x1="239.41" y1="828.30" x2="258.99" y2="825.30"/>
<line x1="249.05" y1="849.25" x2="260.81" y2="845.53"/>
<line x1="288.50" y1="878.04" x2="261.71" y2="845.85"/>
<line x1="210.32" y1="760.67" x2="208.75" y2="765.30"/>
<line x1="210.32" y1="760.67" x2="167.91" y2="720.02"/>
<line x1="208.75" y1="765.30" x2="162.88" y2="744.28"/>
<line x1="167.91" y1="720.02" x2="162.88" y2="744.28"/>
<line x1="210.44" y1="760.48" x2="210.32" y2="760.67"/>
<line x1="208.44" y1="769.92" x2="208.75" y2="765.30"/>
<line x1="165.43" y1="502.82" x2="167.91" y2="720.02"/>
<line x1="148.24" y1="767.31" x2="162.88" y2="744.28"/>
</g>
<g stroke="#000" stroke-width="1.1" stroke-dasharray="3.1 1.4"><line x1="267.14" y1="264.91" x2="270.66" y2="-284.07"/><line x1="422.94" y1="756.79" x2="968.83" y2="698.44"/><line x1="305.10" y1="897.29" x2="697.67" y2="1281.08"/><line x1="208.58" y1="1003.74" x2="132.51" y2="1547.44"/><line x1="165.43" y1="502.82" x2="132.05" y2="-45.16"/><line x1="349.83" y1="826.19" x2="897.57" y2="789.00"/><line x1="165.52" y1="881.52" x2="-163.72" y2="1320.84"/><line x1="11.29" y1="801.27" x2="-537.58" y2="789.43"/></g>
<g fill="#000" fill-opacity="0.35">
<circle cx="141.80" cy="736.80" r="1.60"/>
<circle cx="194.40" cy="736.20" r="1.60"/>
<circle cx="217.30" cy="732.20" r="1.60"/>
<circle cx="185.20" cy="745.80" r="1.60"/>
<circle cx="178.60" cy="760.20" r="1.60"/>
<circle cx="176.70" cy="787.30" r="1.60"/>
<circle cx="156.80" cy="797.30" r="1.60"/>
<circle cx="208.10" cy="801.30" r="1.60"/>
<circle cx="186.00" cy="814.20" r="1.60"/>
<circle cx="198.30" cy="815.50" r="1.60"/>
<circle cx="231.30" cy="814.90" r="1.60"/>
<circle cx="158.40" cy="825.30" r="1.60"/>
<circle cx="285.30" cy="734.50" r="1.60"/>
<circle cx="311.00" cy="732.80" r="1.60"/>
<circle cx="239.30" cy="764.20" r="1.60"/>
<circle cx="312.30" cy="786.20" r="1.60"/>
<circle cx="291.90" cy="788.20" r="1.60"/>
<circle cx="271.30" cy="796.70" r="1.60"/>
<circle cx="318.60" cy="803.90" r="1.60"/>
<circle cx="249.60" cy="816.40" r="1.60"/>
<circle cx="311.90" cy="820.40" r="1.60"/>
<circle cx="280.60" cy="829.20" r="1.60"/>
<circle cx="163.40" cy="837.20" r="1.60"/>
<circle cx="149.40" cy="858.00" r="1.60"/>
<circle cx="138.90" cy="871.30" r="1.60"/>
<circle cx="201.10" cy="844.30" r="1.60"/>
<circle cx="213.50" cy="838.30" r="1.60"/>
<circle cx="231.10" cy="861.00" r="1.60"/>
<circle cx="211.20" cy="879.30" r="1.60"/>
<circle cx="182.80" cy="904.20" r="1.60"/>
<circle cx="226.00" cy="902.40" r="1.60"/>
<circle cx="252.70" cy="836.60" r="1.60"/>
<circle cx="267.20" cy="835.30" r="1.60"/>
<circle cx="273.60" cy="845.60" r="1.60"/>
<circle cx="235.90" cy="848.60" r="1.60"/>
<circle cx="259.30" cy="857.50" r="1.60"/>
<circle cx="310.60" cy="849.60" r="1.60"/>
<circle cx="321.90" cy="852.50" r="1.60"/>
<circle cx="257.30" cy="895.40" r="1.60"/>
<circle cx="260.70" cy="915.10" r="1.60"/>
</g>
</g></g>
<clipPath id="cp209"><rect x="347.73" y="731.20" width="186.30" height="198.80"/></clipPath>
<g clip-path="url(#cp209)"><g transform="translate(209.13,0)">
<polygon points="167.91,720.02 165.43,502.82 210.44,760.48 210.32,760.67" fill="#007dbe"/>
<polygon points="162.88,744.28 208.75,765.30 210.32,760.67 167.91,720.02" fill="#62c3e5"/>
<polygon points="162.88,744.28 148.24,767.31 156.69,772.28 200.84,775.38 208.44,769.92 208.75,765.30" fill="#dbeaf6"/>
<polygon points="156.69,772.28 172.53,803.80 191.01,797.41 200.84,775.38" fill="#008ac6"/>
<polygon points="156.69,772.28 172.53,803.80 168.55,810.67 72.80,816.15 11.29,801.27 148.24,767.31" fill="#0088c6"/>
<polygon points="200.84,775.38 191.01,797.41 193.54,801.73 214.82,816.42 230.97,788.87 208.44,769.92" fill="#66c5e5"/>
<polygon points="174.52,825.53 183.46,834.31 190.46,830.80 193.54,801.73 191.01,797.41 172.53,803.80 168.55,810.67" fill="#00b8de"/>
<polygon points="201.69,829.71 190.46,830.80 193.54,801.73 214.82,816.42 214.90,820.90" fill="#00a6d6"/>
<polygon points="229.84,832.26 236.29,831.38 239.41,828.30 242.50,790.69 230.97,788.87 214.82,816.42 214.90,820.90" fill="#f2f8fd"/>
<polygon points="94.21,825.22 143.17,838.70 174.52,825.53 168.55,810.67 72.80,816.15" fill="#0068ac"/>
<polygon points="271.41,763.46 299.44,760.02 299.88,759.79 267.14,264.91 251.33,732.36" fill="#a0d6ec"/>
<polygon points="208.75,765.30 208.44,769.92 230.97,788.87 242.50,790.69 245.51,790.09 270.48,765.50 271.41,763.46 251.33,732.36 210.44,760.48 210.32,760.67" fill="#02a9d6"/>
<polygon points="299.44,760.02 303.29,799.38 422.94,756.79 299.88,759.79" fill="#7ecbe8"/>
<polygon points="292.18,810.34 288.57,809.34 270.48,765.50 271.41,763.46 299.44,760.02 303.29,799.38 299.54,805.77" fill="#e6f2fb"/>
<polygon points="245.51,790.09 268.26,815.15 288.57,809.34 270.48,765.50" fill="#0066ac"/>
<polygon points="258.99,825.30 239.41,828.30 242.50,790.69 245.51,790.09 268.26,815.15 267.24,817.62" fill="#02457f"/>
<polygon points="320.27,835.40 298.96,834.45 292.18,810.34 299.54,805.77 349.83,826.19" fill="#02457f"/>
<polygon points="276.04,836.95 292.49,843.97 298.96,834.45 292.18,810.34 288.57,809.34 268.26,815.15 267.24,817.62" fill="#02a0d2"/>
<polygon points="143.17,838.70 178.20,862.27 183.46,834.31 174.52,825.53" fill="#03a6d6"/>
<polygon points="94.21,825.22 165.52,881.52 179.30,871.56 180.07,869.33 178.20,862.27 143.17,838.70" fill="#005898"/>
<polygon points="214.33,855.83 211.94,860.13 180.07,869.33 178.20,862.27 183.46,834.31 190.46,830.80 201.69,829.71" fill="#c8e1f2"/>
<polygon points="221.60,850.19 229.84,832.26 214.90,820.90 201.69,829.71 214.33,855.83" fill="#e9f3fb"/>
<polygon points="221.60,850.19 245.21,859.33 247.26,875.87 238.07,882.87 232.18,882.15 211.94,860.13 214.33,855.83" fill="#f3f8fd"/>
<polygon points="180.07,869.33 211.94,860.13 232.18,882.15 204.26,900.03 179.30,871.56" fill="#dceef8"/>
<polygon points="238.07,882.87 243.66,907.90 208.58,1003.74 204.26,900.03 232.18,882.15" fill="#a6d8ec"/>
<polygon points="260.81,845.53 249.05,849.25 236.29,831.38 239.41,828.30 258.99,825.30" fill="#00a0d2"/>
<polygon points="261.71,845.85 276.04,836.95 267.24,817.62 258.99,825.30 260.81,845.53" fill="#40bde2"/>
<polygon points="261.71,845.85 288.50,878.04 288.80,878.14 292.49,843.97 276.04,836.95" fill="#03a7d6"/>
<polygon points="221.60,850.19 245.21,859.33 249.05,849.25 236.29,831.38 229.84,832.26" fill="#f3f8fd"/>
<polygon points="261.71,845.85 288.50,878.04 247.26,875.87 245.21,859.33 249.05,849.25 260.81,845.53" fill="#008ac6"/>
<polygon points="288.80,878.14 304.58,896.51 320.27,835.40 298.96,834.45 292.49,843.97" fill="#a6d8ec"/>
<polygon points="288.80,878.14 304.58,896.51 305.10,897.29 243.66,907.90 238.07,882.87 247.26,875.87 288.50,878.04" fill="#0060a4"/>
<g stroke="#000" stroke-width="1.1" stroke-linecap="round">
<line x1="422.94" y1="756.79" x2="303.29" y2="799.38"/>
<line x1="422.94" y1="756.79" x2="299.88" y2="759.79"/>
<line x1="303.29" y1="799.38" x2="299.44" y2="760.02"/>
<line x1="299.88" y1="759.79" x2="299.44" y2="760.02"/>
<line x1="267.14" y1="264.91" x2="299.88" y2="759.79"/>
<line x1="305.10" y1="897.29" x2="243.66" y2="907.90"/>
<line x1="208.58" y1="1003.74" x2="243.66" y2="907.90"/>
<line x1="165.43" y1="502.82" x2="210.44" y2="760.48"/>
<line x1="267.14" y1="264.91" x2="251.33" y2="732.36"/>
<line x1="210.44" y1="760.48" x2="251.33" y2="732.36"/>
<line x1="299.44" y1="760.02" x2="271.41" y2="763.46"/>
<line x1="251.33" y1="732.36" x2="271.41" y2="763.46"/>
<line x1="288.57" y1="809.34" x2="268.26" y2="815.15"/>
<line x1="288.57" y1="809.34" x2="270.48" y2="765.50"/>
<line x1="268.26" y1="815.15" x2="245.51" y2="790.09"/>
<line x1="270.48" y1="765.50" x2="245.51" y2="790.09"/>
<line x1="299.54" y1="805.77" x2="349.83" y2="826.19"/>
<line x1="299.54" y1="805.77" x2="292.18" y2="810.34"/>
<line x1="292.18" y1="810.34" x2="298.96" y2="834.45"/>
<line x1="298.96" y1="834.45" x2="320.27" y2="835.40"/>
<line x1="349.83" y1="826.19" x2="320.27" y2="835.40"/>
<line x1="303.29" y1="799.38" x2="299.54" y2="805.77"/>
<line x1="288.57" y1="809.34" x2="292.18" y2="810.34"/>
<line x1="271.41" y1="763.46" x2="270.48" y2="765.50"/>
<line x1="305.10" y1="897.29" x2="304.58" y2="896.51"/>
<line x1="304.58" y1="896.51" x2="320.27" y2="835.40"/>
<line x1="208.58" y1="1003.74" x2="204.26" y2="900.03"/>
<line x1="204.26" y1="900.03" x2="232.18" y2="882.15"/>
<line x1="243.66" y1="907.90" x2="238.07" y2="882.87"/>
<line x1="232.18" y1="882.15" x2="238.07" y2="882.87"/>
<line x1="304.58" y1="896.51" x2="288.80" y2="878.14"/>
<line x1="298.96" y1="834.45" x2="292.49" y2="843.97"/>
<line x1="292.49" y1="843.97" x2="288.80" y2="878.14"/>
<line x1="247.26" y1="875.87" x2="238.07" y2="882.87"/>
<line x1="247.26" y1="875.87" x2="288.50" y2="878.04"/>
<line x1="288.50" y1="878.04" x2="288.80" y2="878.14"/>
<line x1="204.26" y1="900.03" x2="179.30" y2="871.56"/>
<line x1="179.30" y1="871.56" x2="165.52" y2="881.52"/>
<line x1="232.18" y1="882.15" x2="211.94" y2="860.13"/>
<line x1="211.94" y1="860.13" x2="180.07" y2="869.33"/>
<line x1="179.30" y1="871.56" x2="180.07" y2="869.33"/>
<line x1="168.55" y1="810.67" x2="174.52" y2="825.53"/>
<line x1="168.55" y1="810.67" x2="72.80" y2="816.15"/>
<line x1="174.52" y1="825.53" x2="143.17" y2="838.70"/>
<line x1="143.17" y1="838.70" x2="94.21" y2="825.22"/>
<line x1="72.80" y1="816.15" x2="94.21" y2="825.22"/>
<line x1="183.46" y1="834.31" x2="174.52" y2="825.53"/>
<line x1="183.46" y1="834.31" x2="190.46" y2="830.80"/>
<line x1="190.46" y1="830.80" x2="193.54" y2="801.73"/>
<line x1="193.54" y1="801.73" x2="191.01" y2="797.41"/>
<line x1="172.53" y1="803.80" x2="191.01" y2="797.41"/>
<line x1="172.53" y1="803.80" x2="168.55" y2="810.67"/>
<line x1="183.46" y1="834.31" x2="178.20" y2="862.27"/>
<line x1="178.20" y1="862.27" x2="143.17" y2="838.70"/>
<line x1="178.20" y1="862.27" x2="180.07" y2="869.33"/>
<line x1="165.52" y1="881.52" x2="94.21" y2="825.22"/>
<line x1="11.29" y1="801.27" x2="72.80" y2="816.15"/>
<line x1="230.97" y1="788.87" x2="208.44" y2="769.92"/>
<line x1="230.97" y1="788.87" x2="214.82" y2="816.42"/>
<line x1="193.54" y1="801.73" x2="214.82" y2="816.42"/>
<line x1="191.01" y1="797.41" x2="200.84" y2="775.38"/>
<line x1="208.44" y1="769.92" x2="200.84" y2="775.38"/>
<line x1="172.53" y1="803.80" x2="156.69" y2="772.28"/>
<line x1="200.84" y1="775.38" x2="156.69" y2="772.28"/>
<line x1="11.29" y1="801.27" x2="148.24" y2="767.31"/>
<line x1="148.24" y1="767.31" x2="156.69" y2="772.28"/>
<line x1="214.90" y1="820.90" x2="201.69" y2="829.71"/>
<line x1="214.90" y1="820.90" x2="229.84" y2="832.26"/>
<line x1="201.69" y1="829.71" x2="214.33" y2="855.83"/>
<line x1="229.84" y1="832.26" x2="221.60" y2="850.19"/>
<line x1="214.33" y1="855.83" x2="221.60" y2="850.19"/>
<line x1="190.46" y1="830.80" x2="201.69" y2="829.71"/>
<line x1="214.82" y1="816.42" x2="214.90" y2="820.90"/>
<line x1="230.97" y1="788.87" x2="242.50" y2="790.69"/>
<line x1="242.50" y1="790.69" x2="239.41" y2="828.30"/>
<line x1="239.41" y1="828.30" x2="236.29" y2="831.38"/>
<line x1="236.29" y1="831.38" x2="229.84" y2="832.26"/>
<line x1="211.94" y1="860.13" x2="214.33" y2="855.83"/>
<line x1="249.05" y1="849.25" x2="236.29" y2="831.38"/>
<line x1="249.05" y1="849.25" x2="245.21" y2="859.33"/>
<line x1="245.21" y1="859.33" x2="221.60" y2="850.19"/>
<line x1="247.26" y1="875.87" x2="245.21" y2="859.33"/>
<line x1="267.24" y1="817.62" x2="276.04" y2="836.95"/>
<line x1="267.24" y1="817.62" x2="258.99" y2="825.30"/>
<line x1="258.99" y1="825.30" x2="260.81" y2="845.53"/>
<line x1="276.04" y1="836.95" x2="261.71" y2="845.85"/>
<line x1="260.81" y1="845.53" x2="261.71" y2="845.85"/>
<line x1="268.26" y1="815.15" x2="267.24" y2="817.62"/>
<line x1="292.49" y1="843.97" x2="276.04" y2="836.95"/>
<line x1="242.50" y1="790.69" x2="245.51" y2="790.09"/>
<line x1="239.41" y1="828.30" x2="258.99" y2="825.30"/>
<line x1="249.05" y1="849.25" x2="260.81" y2="845.53"/>
<line x1="288.50" y1="878.04" x2="261.71" y2="845.85"/>
<line x1="210.32" y1="760.67" x2="208.75" y2="765.30"/>
<line x1="210.32" y1="760.67" x2="167.91" y2="720.02"/>
<line x1="208.75" y1="765.30" x2="162.88" y2="744.28"/>
<line x1="167.91" y1="720.02" x2="162.88" y2="744.28"/>
<line x1="210.44" y1="760.48" x2="210.32" y2="760.67"/>
<line x1="208.44" y1="769.92" x2="208.75" y2="765.30"/>
<line x1="165.43" y1="502.82" x2="167.91" y2="720.02"/>
<line x1="148.24" y1="767.31" x2="162.88" y2="744.28"/>
</g>
<g stroke="#000" stroke-width="1.1" stroke-dasharray="3.1 1.4"><line x1="267.14" y1="264.91" x2="270.66" y2="-284.07"/><line x1="422.94" y1="756.79" x2="968.83" y2="698.44"/><line x1="305.10" y1="897.29" x2="697.67" y2="1281.08"/><line x1="208.58" y1="1003.74" x2="132.51" y2="1547.44"/><line x1="165.43" y1="502.82" x2="132.05" y2="-45.16"/><line x1="349.83" y1="826.19" x2="897.57" y2="789.00"/><line x1="165.52" y1="881.52" x2="-163.72" y2="1320.84"/><line x1="11.29" y1="801.27" x2="-537.58" y2="789.43"/></g>
<g fill="#000" fill-opacity="0.35">
<circle cx="141.80" cy="736.80" r="5.10"/>
<circle cx="194.40" cy="736.20" r="5.10"/>
<circle cx="217.30" cy="732.20" r="5.10"/>
<circle cx="185.20" cy="745.80" r="5.10"/>
<circle cx="178.60" cy="760.20" r="5.10"/>
<circle cx="176.70" cy="787.30" r="5.10"/>
<circle cx="156.80" cy="797.30" r="5.10"/>
<circle cx="208.10" cy="801.30" r="5.10"/>
<circle cx="186.00" cy="814.20" r="5.10"/>
<circle cx="198.30" cy="815.50" r="5.10"/>
<circle cx="231.30" cy="814.90" r="5.10"/>
<circle cx="158.40" cy="825.30" r="5.10"/>
<circle cx="285.30" cy="734.50" r="5.10"/>
<circle cx="311.00" cy="732.80" r="5.10"/>
<circle cx="239.30" cy="764.20" r="5.10"/>
<circle cx="312.30" cy="786.20" r="5.10"/>
<circle cx="291.90" cy="788.20" r="5.10"/>
<circle cx="271.30" cy="796.70" r="5.10"/>
<circle cx="318.60" cy="803.90" r="5.10"/>
<circle cx="249.60" cy="816.40" r="5.10"/>
<circle cx="311.90" cy="820.40" r="5.10"/>
<circle cx="280.60" cy="829.20" r="5.10"/>
<circle cx="163.40" cy="837.20" r="5.10"/>
<circle cx="149.40" cy="858.00" r="5.10"/>
<circle cx="138.90" cy="871.30" r="5.10"/>
<circle cx="201.10" cy="844.30" r="5.10"/>
<circle cx="213.50" cy="838.30" r="5.10"/>
<circle cx="231.10" cy="861.00" r="5.10"/>
<circle cx="211.20" cy="879.30" r="5.10"/>
<circle cx="182.80" cy="904.20" r="5.10"/>
<circle cx="226.00" cy="902.40" r="5.10"/>
<circle cx="252.70" cy="836.60" r="5.10"/>
<circle cx="267.20" cy="835.30" r="5.10"/>
<circle cx="273.60" cy="845.60" r="5.10"/>
<circle cx="235.90" cy="848.60" r="5.10"/>
<circle cx="259.30" cy="857.50" r="5.10"/>
<circle cx="310.60" cy="849.60" r="5.10"/>
<circle cx="321.90" cy="852.50" r="5.10"/>
<circle cx="257.30" cy="895.40" r="5.10"/>
<circle cx="260.70" cy="915.10" r="5.10"/>
</g>
</g></g>
<clipPath id="cp418"><rect x="556.87" y="731.20" width="186.30" height="198.80"/></clipPath>
<g clip-path="url(#cp418)"><g transform="translate(418.27,0)">
<polygon points="156.69,772.28 148.24,767.31 178.64,719.51 209.00,761.47 208.44,769.92 200.84,775.38" fill="#dbeaf6"/>
<polygon points="156.69,772.28 180.81,820.29 200.84,775.38" fill="#008ac6"/>
<polygon points="156.69,772.28 148.24,767.31 -18656.34,5429.61 162.59,852.50 179.16,841.51 180.81,820.29" fill="#0088c6"/>
<polygon points="240.25,806.51 213.63,840.14 179.16,841.51 180.81,820.29 200.84,775.38 208.44,769.92 239.48,796.02" fill="#66c5e5"/>
<polygon points="300.60,770.62 267.14,264.91 251.33,732.36 271.86,764.15" fill="#a0d6ec"/>
<polygon points="239.48,796.02 208.44,769.92 209.00,761.47 251.33,732.36 271.86,764.15" fill="#02a9d6"/>
<polygon points="300.60,770.62 271.86,764.15 239.48,796.02 240.25,806.51 262.39,816.83 339.47,794.77" fill="#0066ac"/>
<polygon points="229.38,855.46 213.63,840.14 179.16,841.51 162.59,852.50 204.26,900.03 239.39,877.53" fill="#dceef8"/>
<polygon points="269.29,842.85 262.39,816.83 240.25,806.51 213.63,840.14 229.38,855.46" fill="#00a0d2"/>
<polygon points="269.29,842.85 229.38,855.46 239.39,877.53 5436.89,4732.25" fill="#008ac6"/>
<g stroke="#000" stroke-width="1.1" stroke-linecap="round">
<line x1="-18656.34" y1="5429.61" x2="148.24" y2="767.31"/>
<line x1="178.64" y1="719.51" x2="148.24" y2="767.31"/>
<line x1="180.81" y1="820.29" x2="156.69" y2="772.28"/>
<line x1="180.81" y1="820.29" x2="200.84" y2="775.38"/>
<line x1="200.84" y1="775.38" x2="156.69" y2="772.28"/>
<line x1="-18656.34" y1="5429.61" x2="162.59" y2="852.50"/>
<line x1="148.24" y1="767.31" x2="156.69" y2="772.28"/>
<line x1="162.59" y1="852.50" x2="179.16" y2="841.51"/>
<line x1="179.16" y1="841.51" x2="180.81" y2="820.29"/>
<line x1="178.64" y1="719.51" x2="209.00" y2="761.47"/>
<line x1="208.44" y1="769.92" x2="209.00" y2="761.47"/>
<line x1="208.44" y1="769.92" x2="200.84" y2="775.38"/>
<line x1="162.59" y1="852.50" x2="204.26" y2="900.03"/>
<line x1="209.00" y1="761.47" x2="251.33" y2="732.36"/>
<line x1="267.14" y1="264.91" x2="251.33" y2="732.36"/>
<line x1="262.39" y1="816.83" x2="240.25" y2="806.51"/>
<line x1="262.39" y1="816.83" x2="339.47" y2="794.77"/>
<line x1="271.86" y1="764.15" x2="300.60" y2="770.62"/>
<line x1="271.86" y1="764.15" x2="239.48" y2="796.02"/>
<line x1="239.48" y1="796.02" x2="240.25" y2="806.51"/>
<line x1="339.47" y1="794.77" x2="300.60" y2="770.62"/>
<line x1="267.14" y1="264.91" x2="300.60" y2="770.62"/>
<line x1="251.33" y1="732.36" x2="271.86" y2="764.15"/>
<line x1="208.44" y1="769.92" x2="239.48" y2="796.02"/>
<line x1="179.16" y1="841.51" x2="213.63" y2="840.14"/>
<line x1="213.63" y1="840.14" x2="240.25" y2="806.51"/>
<line x1="239.39" y1="877.53" x2="5436.89" y2="4732.25"/>
<line x1="239.39" y1="877.53" x2="229.38" y2="855.46"/>
<line x1="229.38" y1="855.46" x2="269.29" y2="842.85"/>
<line x1="5436.89" y1="4732.25" x2="269.29" y2="842.85"/>
<line x1="204.26" y1="900.03" x2="239.39" y2="877.53"/>
<line x1="213.63" y1="840.14" x2="229.38" y2="855.46"/>
<line x1="262.39" y1="816.83" x2="269.29" y2="842.85"/>
</g>
<g stroke="#000" stroke-width="1.1" stroke-dasharray="3.1 1.4"><line x1="-18656.34" y1="5429.61" x2="-19157.53" y2="5552.36"/><line x1="178.64" y1="719.51" x2="147.26" y2="204.46"/><line x1="204.26" y1="900.03" x2="225.75" y2="1415.59"/><line x1="267.14" y1="264.91" x2="270.45" y2="-251.08"/><line x1="339.47" y1="794.77" x2="831.58" y2="949.96"/><line x1="5436.89" y1="4732.25" x2="5850.50" y2="5040.76"/></g>
<g fill="#000" fill-opacity="0.35">
<circle cx="141.80" cy="736.80" r="9.10"/>
<circle cx="217.30" cy="732.20" r="9.10"/>
<circle cx="178.60" cy="760.20" r="9.10"/>
<circle cx="176.70" cy="787.30" r="9.10"/>
<circle cx="156.80" cy="797.30" r="9.10"/>
<circle cx="208.10" cy="801.30" r="9.10"/>
<circle cx="285.30" cy="734.50" r="9.10"/>
<circle cx="311.00" cy="732.80" r="9.10"/>
<circle cx="239.30" cy="764.20" r="9.10"/>
<circle cx="271.30" cy="796.70" r="9.10"/>
<circle cx="280.60" cy="829.20" r="9.10"/>
<circle cx="211.20" cy="879.30" r="9.10"/>
<circle cx="182.80" cy="904.20" r="9.10"/>
<circle cx="226.00" cy="902.40" r="9.10"/>
<circle cx="252.70" cy="836.60" r="9.10"/>
<circle cx="259.30" cy="857.50" r="9.10"/>
</g>
</g></g>
<clipPath id="cp627"><rect x="766.00" y="731.20" width="186.30" height="198.80"/></clipPath>
<g clip-path="url(#cp627)"><g transform="translate(627.40,0)">
<polygon points="156.69,772.28 148.24,767.31 178.64,719.51 209.00,761.47 208.44,769.92 200.84,775.38" fill="#dbeaf6"/>
<polygon points="156.69,772.28 180.81,820.29 200.84,775.38" fill="#008ac6"/>
<polygon points="156.69,772.28 148.24,767.31 -18656.34,5429.61 162.59,852.50 179.16,841.51 180.81,820.29" fill="#0088c6"/>
<polygon points="240.25,806.51 213.63,840.14 179.16,841.51 180.81,820.29 200.84,775.38 208.44,769.92 239.48,796.02" fill="#66c5e5"/>
<polygon points="300.60,770.62 267.14,264.91 251.33,732.36 271.86,764.15" fill="#a0d6ec"/>
<polygon points="239.48,796.02 208.44,769.92 209.00,761.47 251.33,732.36 271.86,764.15" fill="#02a9d6"/>
<polygon points="300.60,770.62 271.86,764.15 239.48,796.02 240.25,806.51 262.39,816.83 339.47,794.77" fill="#0066ac"/>
<polygon points="229.38,855.46 213.63,840.14 179.16,841.51 162.59,852.50 204.26,900.03 239.39,877.53" fill="#dceef8"/>
<polygon points="269.29,842.85 262.39,816.83 240.25,806.51 213.63,840.14 229.38,855.46" fill="#00a0d2"/>
<polygon points="269.29,842.85 229.38,855.46 239.39,877.53 5436.89,4732.25" fill="#008ac6"/>
<g stroke="#000" stroke-width="1.1" stroke-linecap="round">
<line x1="-18656.34" y1="5429.61" x2="148.24" y2="767.31"/>
<line x1="178.64" y1="719.51" x2="148.24" y2="767.31"/>
<line x1="180.81" y1="820.29" x2="156.69" y2="772.28"/>
<line x1="180.81" y1="820.29" x2="200.84" y2="775.38"/>
<line x1="200.84" y1="775.38" x2="156.69" y2="772.28"/>
<line x1="-18656.34" y1="5429.61" x2="162.59" y2="852.50"/>
<line x1="148.24" y1="767.31" x2="156.69" y2="772.28"/>
<line x1="162.59" y1="852.50" x2="179.16" y2="841.51"/>
<line x1="179.16" y1="841.51" x2="180.81" y2="820.29"/>
<line x1="178.64" y1="719.51" x2="209.00" y2="761.47"/>
<line x1="208.44" y1="769.92" x2="209.00" y2="761.47"/>
<line x1="208.44" y1="769.92" x2="200.84" y2="775.38"/>
<line x1="162.59" y1="852.50" x2="204.26" y2="900.03"/>
<line x1="209.00" y1="761.47" x2="251.33" y2="732.36"/>
<line x1="267.14" y1="264.91" x2="251.33" y2="732.36"/>
<line x1="262.39" y1="816.83" x2="240.25" y2="806.51"/>
<line x1="262.39" y1="816.83" x2="339.47" y2="794.77"/>
<line x1="271.86" y1="764.15" x2="300.60" y2="770.62"/>
<line x1="271.86" y1="764.15" x2="239.48" y2="796.02"/>
<line x1="239.48" y1="796.02" x2="240.25" y2="806.51"/>
<line x1="339.47" y1="794.77" x2="300.60" y2="770.62"/>
<line x1="267.14" y1="264.91" x2="300.60" y2="770.62"/>
<line x1="251.33" y1="732.36" x2="271.86" y2="764.15"/>
<line x1="208.44" y1="769.92" x2="239.48" y2="796.02"/>
<line x1="179.16" y1="841.51" x2="213.63" y2="840.14"/>
<line x1="213.63" y1="840.14" x2="240.25" y2="806.51"/>
<line x1="239.39" y1="877.53" x2="5436.89" y2="4732.25"/>
<line x1="239.39" y1="877.53" x2="229.38" y2="855.46"/>
<line x1="229.38" y1="855.46" x2="269.29" y2="842.85"/>
<line x1="5436.89" y1="4732.25" x2="269.29" y2="842.85"/>
<line x1="204.26" y1="900.03" x2="239.39" y2="877.53"/>
<line x1="213.63" y1="840.14" x2="229.38" y2="855.46"/>
<line x1="262.39" y1="816.83" x2="269.29" y2="842.85"/>
</g>
<g stroke="#000" stroke-width="1.1" stroke-dasharray="3.1 1.4"><line x1="-18656.34" y1="5429.61" x2="-19157.53" y2="5552.36"/><line x1="178.64" y1="719.51" x2="147.26" y2="204.46"/><line x1="204.26" y1="900.03" x2="225.75" y2="1415.59"/><line x1="267.14" y1="264.91" x2="270.45" y2="-251.08"/><line x1="339.47" y1="794.77" x2="831.58" y2="949.96"/><line x1="5436.89" y1="4732.25" x2="5850.50" y2="5040.76"/></g>
<g fill="#000" fill-opacity="0.35">
<circle cx="141.80" cy="736.80" r="1.60"/>
<circle cx="217.30" cy="732.20" r="1.60"/>
<circle cx="178.60" cy="760.20" r="1.60"/>
<circle cx="176.70" cy="787.30" r="1.60"/>
<circle cx="156.80" cy="797.30" r="1.60"/>
<circle cx="208.10" cy="801.30" r="1.60"/>
<circle cx="285.30" cy="734.50" r="1.60"/>
<circle cx="311.00" cy="732.80" r="1.60"/>
<circle cx="239.30" cy="764.20" r="1.60"/>
<circle cx="271.30" cy="796.70" r="1.60"/>
<circle cx="280.60" cy="829.20" r="1.60"/>
<circle cx="211.20" cy="879.30" r="1.60"/>
<circle cx="182.80" cy="904.20" r="1.60"/>
<circle cx="226.00" cy="902.40" r="1.60"/>
<circle cx="252.70" cy="836.60" r="1.60"/>
<circle cx="259.30" cy="857.50" r="1.60"/>
</g>
</g></g>
</svg></body></html>
